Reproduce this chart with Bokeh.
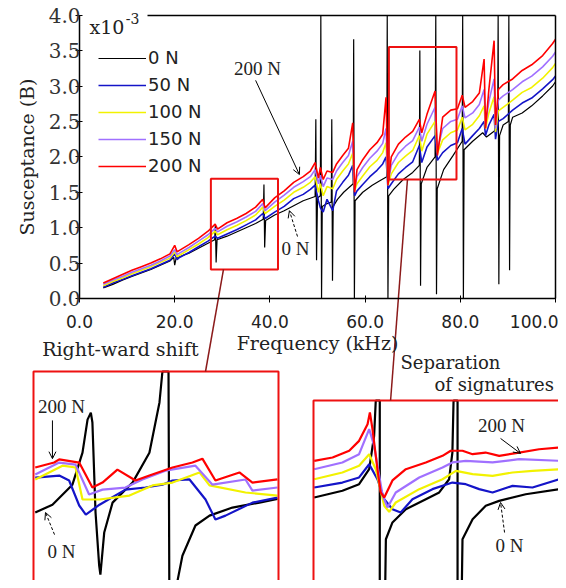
from bokeh.plotting import figure
from bokeh.models import (Range1d, LinearAxis, FixedTicker, NumeralTickFormatter,
                          Legend, LegendItem, Label, Arrow, OpenHead)
from bokeh.embed import file_html
from bokeh.resources import INLINE

# ---------------- data (susceptance in 1e-3 S, frequency in kHz) ----------------
LOADS = ["0 N", "50 N", "100 N", "150 N", "200 N"]
COLORS = ["#000000", "#1414c8", "#f2f200", "#a070ff", "#ff0000"]

# 0 N (with resonance spikes)
f_0N = [5, 7, 9, 11, 13, 15, 17, 19, 19.8, 20.0, 20.3, 21, 23, 25, 27, 28.4, 28.55, 28.7, 28.9,
        31, 33, 35, 37, 38.6, 38.75, 38.9, 39.1, 41, 43, 45, 47, 49.5, 49.65, 49.8, 50.0,
        50.6, 50.7, 50.85, 51.0, 52.0, 52.9, 53.0, 53.15, 53.3, 54.2, 55.5, 57.5, 57.6, 57.75,
        57.9, 59.5, 61.5, 63.0, 64.55, 64.65, 64.8, 64.95, 66, 68, 70, 71.4, 71.5, 71.65, 71.8,
        73, 74.7, 74.85, 75.0, 75.15, 76.5, 78.5, 80.4, 80.5, 80.65, 80.8, 82.6, 84.7, 85.5,
        87.85, 87.95, 88.1, 88.25, 89, 90.1, 90.2, 90.35, 90.5, 91, 93, 95, 97.3, 99.4, 100]
b_0N = [0.15, 0.20, 0.26, 0.31, 0.36, 0.41, 0.47, 0.53, 0.58, 0.47, 0.57, 0.59, 0.64, 0.71, 0.78,
        0.83, 1.05, 0.51, 0.83, 0.88, 0.94, 1.00, 1.06, 1.12, 1.61, 0.72, 1.10, 1.18, 1.24, 1.31,
        1.38, 1.44, 2.53, 0.54, 1.42, 1.45, 4.0, 0.0, 1.30, 1.34, 1.36, 2.53, 0.25, 1.30, 1.40,
        1.50, 1.62, 3.66, 0.0, 1.38, 1.50, 1.60, 1.66, 1.72, 4.0, 0.0, 1.45, 1.54, 1.68, 1.78,
        1.88, 3.50, 0.18, 1.62, 1.85, 2.00, 4.0, 0.06, 1.55, 1.82, 2.02, 2.22, 4.0, 0.0, 2.10,
        2.22, 2.34, 2.28, 2.40, 4.0, 0.2, 2.30, 2.45, 2.50, 4.0, 0.4, 2.45, 2.56, 2.62, 2.72,
        2.86, 3.00, 3.06]

# loaded curves share one frequency list
f_load = [5, 7, 9, 11, 13, 15, 17, 19, 20, 20.5, 21, 23, 25, 27, 28.5, 29, 31, 33, 35, 37, 38.5,
          39, 41, 43, 45, 47, 48.5, 49.5, 50.2, 50.6, 51.2, 52, 53.2, 54, 55.3, 56.5, 57.4, 57.8,
          58.3, 59.5, 61, 62.5, 63.7, 64.4, 64.8, 65.5, 67, 68.5, 70, 71.4, 71.9, 73, 74.7, 75.2,
          76.3, 78, 79.4, 80.4, 81, 82.6, 84, 85.0, 85.3, 86, 87.1, 87.4, 88, 89, 91, 93, 95,
          97.3, 99.4, 100]
b_200N = [0.22, 0.28, 0.34, 0.40, 0.45, 0.50, 0.56, 0.63, 0.75, 0.66, 0.68, 0.76, 0.85, 0.95,
          1.05, 0.98, 1.07, 1.13, 1.20, 1.29, 1.40, 1.28, 1.42, 1.52, 1.64, 1.72, 1.80, 1.92,
          1.70, 1.85, 1.68, 1.80, 1.78, 1.90, 2.02, 2.12, 2.48, 1.50, 1.82, 1.96, 2.10, 2.20,
          2.32, 2.84, 1.60, 2.00, 2.18, 2.28, 2.36, 2.53, 2.34, 2.60, 2.93, 2.02, 2.56, 2.66,
          2.68, 2.87, 2.70, 2.78, 2.90, 3.38, 2.40, 2.95, 3.64, 2.45, 2.95, 3.02, 3.10, 3.22,
          3.30, 3.43, 3.60, 3.66]
b_150N = [0.20, 0.26, 0.31, 0.37, 0.42, 0.47, 0.53, 0.60, 0.69, 0.62, 0.64, 0.72, 0.81, 0.90,
          0.99, 0.94, 1.02, 1.08, 1.15, 1.23, 1.34, 1.24, 1.36, 1.46, 1.57, 1.65, 1.72, 1.82,
          1.62, 1.74, 1.58, 1.70, 1.68, 1.80, 1.92, 2.02, 2.22, 1.55, 1.72, 1.85, 1.98, 2.08,
          2.19, 2.40, 1.62, 1.88, 2.05, 2.15, 2.23, 2.42, 2.22, 2.46, 2.70, 2.10, 2.40, 2.50,
          2.53, 2.72, 2.55, 2.62, 2.74, 2.95, 2.45, 2.78, 3.10, 2.40, 2.80, 2.86, 2.95, 3.06,
          3.14, 3.27, 3.42, 3.48]
b_100N = [0.18, 0.24, 0.29, 0.35, 0.40, 0.45, 0.51, 0.57, 0.66, 0.59, 0.61, 0.69, 0.77, 0.86,
          0.95, 0.90, 0.97, 1.03, 1.10, 1.18, 1.29, 1.20, 1.30, 1.39, 1.50, 1.57, 1.64, 1.72,
          1.50, 1.62, 1.45, 1.58, 1.55, 1.68, 1.80, 1.90, 2.05, 1.52, 1.62, 1.73, 1.86, 1.95,
          2.06, 2.20, 1.60, 1.76, 1.92, 2.01, 2.09, 2.30, 2.08, 2.32, 2.50, 2.05, 2.24, 2.34,
          2.38, 2.56, 2.38, 2.46, 2.58, 2.72, 2.40, 2.62, 2.85, 2.35, 2.65, 2.70, 2.80, 2.91,
          2.98, 3.11, 3.26, 3.32]
b_50N = [0.16, 0.22, 0.27, 0.32, 0.37, 0.42, 0.48, 0.54, 0.63, 0.55, 0.58, 0.65, 0.73, 0.81,
         0.88, 0.85, 0.91, 0.97, 1.04, 1.11, 1.20, 1.13, 1.22, 1.30, 1.41, 1.47, 1.54, 1.60,
         1.38, 1.28, 1.22, 1.40, 1.24, 1.52, 1.64, 1.74, 1.88, 1.45, 1.52, 1.61, 1.72, 1.81,
         1.90, 2.00, 1.55, 1.62, 1.76, 1.85, 1.93, 2.16, 1.92, 2.14, 2.30, 1.95, 2.06, 2.16,
         2.20, 2.40, 2.18, 2.30, 2.40, 2.50, 2.30, 2.45, 2.60, 2.25, 2.50, 2.54, 2.66, 2.76,
         2.83, 2.96, 3.09, 3.14]

# zoomed views (same units)
BOX1 = (27.6, 41.7, 0.41, 1.69)   # main-plot region of left zoom
BOX2 = (65.0, 79.2, 1.68, 3.55)   # main-plot region of right zoom
ZOOM2 = (69.0, 80.5, 1.0, 3.0)    # extent of right zoom panel

z1_f = {
    "200 N": [27.70, 28.79, 29.08, 30.23, 30.99, 31.57, 32.43, 33.47, 34.27, 35.60, 36.75, 37.32, 38.07, 39.45, 40.20, 41.64],
    "150 N": [27.70, 29.08, 30.02, 30.80, 31.57, 32.89, 33.87, 35.19, 36.92, 37.90, 39.80, 40.20, 41.64],
    "100 N": [27.70, 29.27, 30.02, 30.42, 31.40, 33.12, 34.45, 35.60, 37.15, 37.73, 39.80, 41.64],
    "50 N": [27.70, 29.08, 29.65, 30.23, 30.61, 31.40, 32.89, 34.04, 35.02, 35.60, 36.58, 37.50, 38.07, 38.65, 40.20, 41.64],
    "0 N": [27.70, 28.69, 29.84, 30.42, 30.71, 30.90, 30.99, 31.17, 31.38, 31.45, 31.67, 32.15, 33.30, 34.27, 34.85, 35.02, 35.37, 35.42, 35.60, 35.89, 36.17, 36.92, 37.73, 39.05, 40.60, 41.64],
}
z1_b = {
    "200 N": [1.321, 1.340, 1.352, 1.340, 1.244, 1.263, 1.313, 1.271, 1.290, 1.321, 1.340, 1.355, 1.271, 1.302, 1.263, 1.275],
    "150 N": [1.294, 1.340, 1.332, 1.217, 1.236, 1.244, 1.275, 1.309, 1.328, 1.255, 1.275, 1.232, 1.244],
    "100 N": [1.275, 1.328, 1.321, 1.198, 1.198, 1.213, 1.252, 1.263, 1.302, 1.252, 1.225, 1.213],
    "50 N": [1.282, 1.290, 1.271, 1.175, 1.140, 1.178, 1.236, 1.244, 1.255, 1.271, 1.275, 1.198, 1.121, 1.136, 1.186, 1.205],
    "0 N": [1.148, 1.178, 1.255, 1.378, 1.505, 1.532, 1.494, 1.148, 0.944, 0.909, 1.071, 1.186, 1.263, 1.378, 1.571, 1.69, 1.69, 0.80, 0.80, 0.886, 0.982, 1.098, 1.136, 1.167, 1.186, 1.200],
}
z2_f = {
    "200 N": [69.03, 69.81, 70.52, 70.94, 71.30, 71.40, 71.51, 71.72, 71.86, 72.01, 72.36, 72.93, 73.78, 74.49, 74.84, 75.34, 75.77, 76.32, 76.90, 77.75, 78.60, 79.46],
    "150 N": [69.03, 70.23, 70.94, 71.37, 71.58, 71.94, 72.15, 72.50, 73.50, 74.49, 74.91, 75.48, 76.62, 77.75, 79.46],
    "100 N": [69.03, 70.23, 70.94, 71.37, 71.65, 72.01, 72.22, 72.50, 73.50, 74.49, 75.06, 75.77, 76.62, 77.47, 78.32, 79.46],
    "50 N": [69.03, 70.23, 70.94, 71.37, 71.72, 72.01, 72.36, 72.71, 73.21, 74.06, 74.91, 75.48, 76.05, 76.62, 77.47, 78.32, 79.46],
    "0 N": [69.03, 70.23, 70.94, 71.37, 71.58, 71.65, 71.82, 71.82, 72.01, 72.08, 72.36, 72.93, 73.78, 74.35, 74.77, 74.91, 74.96, 75.13, 75.13, 75.27, 75.34, 75.77, 76.33, 76.90, 78.03, 79.46],
}
z2_b = {
    "200 N": [2.598, 2.620, 2.665, 2.731, 2.842, 2.920, 2.809, 2.542, 2.387, 2.353, 2.467, 2.542, 2.587, 2.631, 2.665, 2.665, 2.642, 2.653, 2.631, 2.653, 2.675, 2.687],
    "150 N": [2.542, 2.587, 2.642, 2.809, 2.698, 2.367, 2.287, 2.387, 2.487, 2.553, 2.587, 2.598, 2.587, 2.609, 2.598],
    "100 N": [2.475, 2.520, 2.565, 2.642, 2.542, 2.298, 2.258, 2.320, 2.409, 2.475, 2.531, 2.509, 2.498, 2.520, 2.531, 2.542],
    "50 N": [2.420, 2.453, 2.487, 2.575, 2.475, 2.342, 2.275, 2.253, 2.342, 2.409, 2.453, 2.442, 2.409, 2.387, 2.431, 2.420, 2.475],
    "0 N": [2.353, 2.398, 2.442, 2.542, 2.765, 3.0, 3.0, 1.3, 1.3, 2.075, 2.187, 2.275, 2.342, 2.387, 2.475, 2.653, 3.0, 3.0, 1.3, 1.3, 2.075, 2.209, 2.298, 2.331, 2.375, 2.409],
}

X_TICKS = [0, 20, 40, 60, 80, 100]
Y_TICKS = [0, 0.5, 1.0, 1.5, 2.0, 2.5, 3.0, 3.5, 4.0]

# ---------------- layout helpers (page pixels -> data ranges) ----------------
W, H = 558, 580
PX0, PY0 = 8, 8            # page margin


def xr(d0, p0, d1, p1):
    s = (p1 - p0) / (d1 - d0)
    return Range1d(start=d0 + (PX0 - p0) / s, end=d0 + (PX0 + W - p0) / s)


def yr(d0, p0, d1, p1):
    s = (p1 - p0) / (d1 - d0)   # negative (pixels grow downward)
    return Range1d(start=d0 + (PY0 + H - p0) / s, end=d0 + (PY0 - p0) / s)


main_x = xr(0, 87, 100, 563)
main_y = yr(0, 306, 4, 22.7)
z1x = xr(BOX1[0], 41, BOX1[1], 286)
z1y = yr(BOX1[3], 379, BOX1[2], 379 + 333)
z2x = xr(ZOOM2[0], 321, ZOOM2[0] + 10, 321 + 235)
z2y = yr(ZOOM2[3], 408, ZOOM2[3] - 1, 408 + 150)

p = figure(width=W, height=H, x_range=main_x, y_range=main_y,
           x_axis_type=None, y_axis_type=None, output_backend="svg",
           toolbar_location=None, min_border=0)
p.outline_line_color = None
p.background_fill_color = "white"
p.extra_x_ranges = {"z1": z1x, "z2": z2x}
p.extra_y_ranges = {"z1": z1y, "z2": z2y}

SERIF = "DejaVu Serif"
SANS = "DejaVu Sans"
TIMES = "Liberation Serif"

# axes
xa = LinearAxis(fixed_location=0, bounds=(0, 100), ticker=FixedTicker(ticks=X_TICKS),
                formatter=NumeralTickFormatter(format="0.0"),
                axis_label="Frequency (kHz)")
xa.major_label_text_font = SANS
xa.major_label_text_font_size = "17px"
xa.major_label_text_color = "#222222"
xa.major_label_standoff = 12
xa.axis_label_text_font = SERIF
xa.axis_label_text_font_size = "19px"
xa.axis_label_text_font_style = "normal"
xa.axis_label_text_color = "#222222"
xa.axis_label_standoff = 1
xa.major_tick_in = 3
xa.major_tick_out = 4
xa.minor_tick_line_color = None
xa.axis_line_width = 1.5
p.add_layout(xa, "below")

ya = LinearAxis(fixed_location=0, bounds=(0, 4), ticker=FixedTicker(ticks=Y_TICKS),
                formatter=NumeralTickFormatter(format="0.0"),
                axis_label="Susceptance (B)")
ya.major_label_text_font = SERIF
ya.major_label_text_font_size = "20px"
ya.major_label_text_color = "#333333"
ya.major_label_standoff = -5
ya.axis_label_text_font = SERIF
ya.axis_label_text_font_size = "19px"
ya.axis_label_text_font_style = "normal"
ya.axis_label_text_color = "#222222"
ya.axis_label_standoff = 8
ya.major_tick_in = 3
ya.major_tick_out = 4
ya.minor_tick_line_color = None
ya.axis_line_width = 1.5
p.add_layout(ya, "left")

ta = LinearAxis(fixed_location=4, bounds=(14.3, 100), ticker=FixedTicker(ticks=[]),
                major_tick_line_color=None, minor_tick_line_color=None,
                major_label_text_font_size="0px", axis_line_width=1.5)
p.add_layout(ta, "above")
ra = LinearAxis(fixed_location=100, bounds=(0, 4), ticker=FixedTicker(ticks=[]),
                major_tick_line_color=None, minor_tick_line_color=None,
                major_label_text_font_size="0px", axis_line_width=1.5)
p.add_layout(ra, "right")

# main curves
main = {}
main["0 N"] = p.line(f_0N, b_0N, line_color=COLORS[0], line_width=1.2)
main["50 N"] = p.line(f_load, b_50N, line_color=COLORS[1], line_width=1.6)
main["100 N"] = p.line(f_load, b_100N, line_color=COLORS[2], line_width=1.6)
main["150 N"] = p.line(f_load, b_150N, line_color=COLORS[3], line_width=1.6)
main["200 N"] = p.line(f_load, b_200N, line_color=COLORS[4], line_width=1.6)

# zoom boxes on main plot
p.quad(left=[BOX1[0], BOX2[0]], right=[BOX1[1], BOX2[1]], bottom=[BOX1[2], BOX2[2]],
       top=[BOX1[3], BOX2[3]], fill_color=None, line_color="#ee1111", line_width=2)

# zoom panels
for name, col in zip(LOADS, COLORS):
    p.line(z1_f[name], z1_b[name], line_color=col, line_width=2.2,
           x_range_name="z1", y_range_name="z1")
    p.line(z2_f[name], z2_b[name], line_color=col, line_width=2.2,
           x_range_name="z2", y_range_name="z2")
p.quad(left=BOX1[0], right=BOX1[1], bottom=BOX1[2], top=BOX1[3], fill_color=None,
       line_color="#ee1111", line_width=2, x_range_name="z1", y_range_name="z1")
p.quad(left=ZOOM2[0], right=ZOOM2[1], bottom=ZOOM2[2], top=ZOOM2[3], fill_color=None,
       line_color="#ee1111", line_width=2, x_range_name="z2", y_range_name="z2")


# connectors (convert zoom-panel coordinates to main coordinates through the ranges)
def conv(v, r_from, r_to):
    t = (v - r_from.start) / (r_from.end - r_from.start)
    return r_to.start + t * (r_to.end - r_to.start)


c1 = (conv(37.5, z1x, main_x), conv(BOX1[3], z1y, main_y))
c2 = (conv(72.28, z2x, main_x), conv(ZOOM2[3], z2y, main_y))
p.segment(x0=[30.25, 68.9], y0=[BOX1[2], BOX2[2]], x1=[c1[0], c2[0]], y1=[c1[1], c2[1]],
          line_color="#8b1a1a", line_width=1.5)

# legend
legend = Legend(items=[LegendItem(label=n, renderers=[main[n]]) for n in LOADS],
                location=(98, 404), glyph_width=48, glyph_height=20, label_height=20,
                spacing=6, padding=0, margin=0, label_standoff=2,
                background_fill_alpha=0, border_line_color=None,
                label_text_font=SANS, label_text_font_size="18px",
                label_text_color="#222222")
p.add_layout(legend, "center")

# texts
def lab(x, y, text, font=TIMES, size="19px", align="center", rng=None, base="middle"):
    kw = dict(x=x, y=y, text=text, text_font=font, text_font_size=size, text_align=align,
              text_baseline=base, text_color="#222222")
    if rng:
        kw.update(x_range_name=rng, y_range_name=rng)
    p.add_layout(Label(**kw))


lab(2.1, 3.83, "x10", font=SERIF, size="19px", align="left", base="alphabetic")
lab(9.7, 3.95, "-3", font=SERIF, size="14px", align="left", base="alphabetic")
lab(37.4, 3.25, "200 N")
lab(45.4, 0.71, "0 N")
lab(32.6, 1.775, "Right-ward shift", font=SERIF, size="19px", rng="z1")
lab(29.21, 1.555, "200 N", rng="z1")
lab(29.21, 0.998, "0 N", rng="z1")
lab(72.70, 3.253, "Separation", font=SERIF, size="18px", align="left", rng="z2")
lab(74.15, 3.107, "of signatures", font=SERIF, size="18px", align="left", rng="z2")
lab(77.0, 2.833, "200 N", rng="z2")
lab(77.34, 2.033, "0 N", rng="z2")

# arrows
def arr(x0, y0, x1, y1, rng=None, dash="solid"):
    kw = dict(x_start=x0, y_start=y0, x_end=x1, y_end=y1, line_width=1, line_dash=dash,
              end=OpenHead(size=7, line_width=1))
    if rng:
        kw.update(x_range_name=rng, y_range_name=rng)
    p.add_layout(Arrow(**kw))


arr(37.0, 3.08, 46.2, 1.75)
arr(45.8, 0.875, 44.1, 1.24, dash="3 2")
arr(28.69, 1.502, 28.69, 1.355, rng="z1")
arr(28.81, 1.063, 28.29, 1.148, rng="z1", dash="3 2")
arr(76.96, 2.747, 77.81, 2.647, rng="z2")
arr(77.13, 2.12, 76.96, 2.32, rng="z2", dash="3 2")

open("out.html", "w").write(file_html(p, INLINE))
